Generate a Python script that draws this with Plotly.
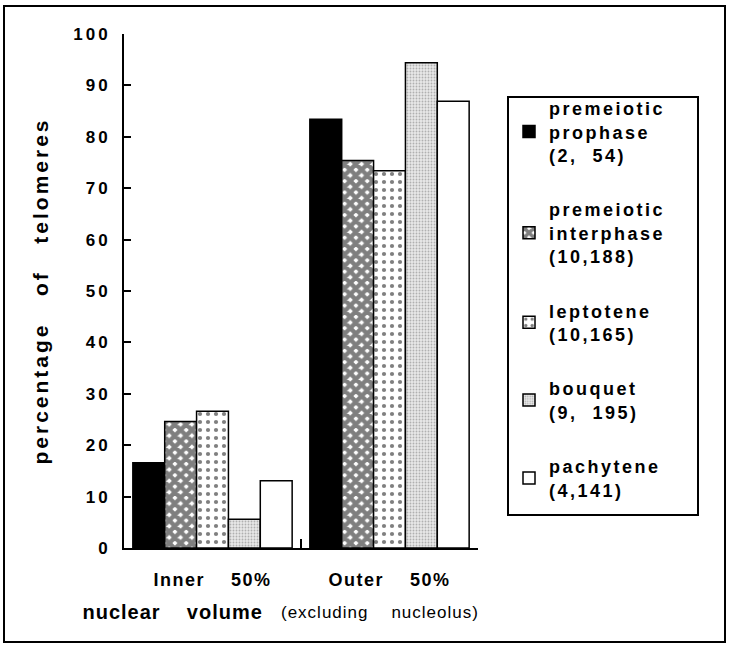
import plotly.graph_objects as go

# ---- data ----
categories = ["Inner\u00a0\u00a0\u00a0 50%", "Outer\u00a0\u00a0\u00a0 50%"]
series_names = [
    "premeiotic<br>prophase<br>(2,\u00a0 54)",
    "premeiotic<br>interphase<br>(10,188)",
    "leptotene<br>(10,165)",
    "bouquet<br>(9,\u00a0 195)",
    "pachytene<br>(4,141)",
]
prophase = [16.6, 83.4]
interphase = [24.6, 75.4]
leptotene = [26.6, 73.4]
bouquet = [5.6, 94.4]
pachytene = [13.1, 86.9]
series_values = [prophase, interphase, leptotene, bouquet, pachytene]
y_ticks = [0, 10, 20, 30, 40, 50, 60, 70, 80, 90, 100]

# ---- styles ----
FONT = "Liberation Sans, Arial, Helvetica, sans-serif"
styles = [
    dict(color="black", pattern=dict(shape="")),
    dict(color="white", pattern=dict(shape="x", fgcolor="black", bgcolor="white", size=8, solidity=0.8)),
    dict(color="white", pattern=dict(shape=".", fgcolor="black", bgcolor="white", size=8, solidity=0.22)),
    dict(color="#dcdcdc", pattern=dict(shape=".", fgcolor="#777777", bgcolor="#e8e8e8", size=3, solidity=0.3)),
    dict(color="white", pattern=dict(shape="")),
]

fig = go.Figure()
for name, vals, st in zip(series_names, series_values, styles):
    fig.add_trace(go.Bar(
        x=categories, y=vals, name=name, legendgroup=name,
        marker=dict(color=st["color"], pattern=st["pattern"],
                    line=dict(color="black", width=1.5)),
    ))

L, R, T, B = 124, 251, 34, 102
W, H = 729, 650
pw, ph = W - L - R, H - T - B


def px(x):
    return (x - L) / pw


def py(y):
    return (H - B - y) / ph


fig.update_layout(
    width=W, height=H,
    margin=dict(l=L, r=R, t=T, b=B),
    paper_bgcolor="white", plot_bgcolor="white",
    barmode="group", bargap=0.1, bargroupgap=0,
    font=dict(family=FONT, color="black"),
    legend=dict(
        x=px(509), y=py(90), xanchor="left", yanchor="top",
        font=dict(family=FONT, size=18, weight="bold"),
        bgcolor="rgba(0,0,0,0)", borderwidth=0,
        tracegroupgap=28, itemwidth=30,
    ),
    xaxis=dict(
        type="category", range=[-0.5, 1.5],
        showline=True, linecolor="black", linewidth=2,
        ticks="inside", tickson="boundaries", ticklen=9, tickwidth=2, tickcolor="black",
        tickfont=dict(size=18, weight="bold"), ticklabelstandoff=14,
        showgrid=False, zeroline=False,
    ),
    yaxis=dict(
        range=[0, 100], tickvals=y_ticks,
        showline=True, linecolor="black", linewidth=2,
        ticks="inside", ticklen=7, tickwidth=2, tickcolor="black",
        tickfont=dict(size=17, weight="bold"), ticklabelstandoff=8,
        showgrid=False, zeroline=False,
        title=dict(text="percentage\u00a0\u00a0 of\u00a0\u00a0 telomeres",
                   font=dict(size=21, weight="bold"), standoff=28),
    ),
    shapes=[
        dict(type="rect", xref="paper", yref="paper",
             x0=px(508), x1=px(698), y0=py(515), y1=py(97),
             line=dict(color="black", width=2), fillcolor="rgba(0,0,0,0)"),
        dict(type="rect", xref="paper", yref="paper",
             x0=px(4), x1=px(725), y0=py(642), y1=py(6),
             line=dict(color="black", width=2), fillcolor="rgba(0,0,0,0)"),
    ],
    annotations=[
        dict(text="nuclear\u00a0\u00a0\u00a0 volume", xref="paper", yref="paper",
             x=px(172), y=py(612), xanchor="center", yanchor="middle",
             showarrow=False, font=dict(size=20, weight="bold")),
        dict(text="(excluding\u00a0\u00a0\u00a0 nucleolus)", xref="paper", yref="paper",
             x=px(380), y=py(612), xanchor="center", yanchor="middle",
             showarrow=False, font=dict(size=17)),
    ],
)

post_js = """
document.body.style.margin = '0';
document.querySelectorAll('.legend [clip-path]').forEach(function(e){ e.removeAttribute('clip-path'); });
function sp(sel, v){ document.querySelectorAll(sel).forEach(function(t){ t.style.letterSpacing = v; }); }
sp('.legendtext', '2.5px');
sp('.ytick text', '3px');
sp('.xtick text', '1.5px');
sp('.ytitle', '3px');
sp('.annotation-text', '1px');
"""

fig.write_html("out.html", post_script=post_js, config={"displayModeBar": False})
